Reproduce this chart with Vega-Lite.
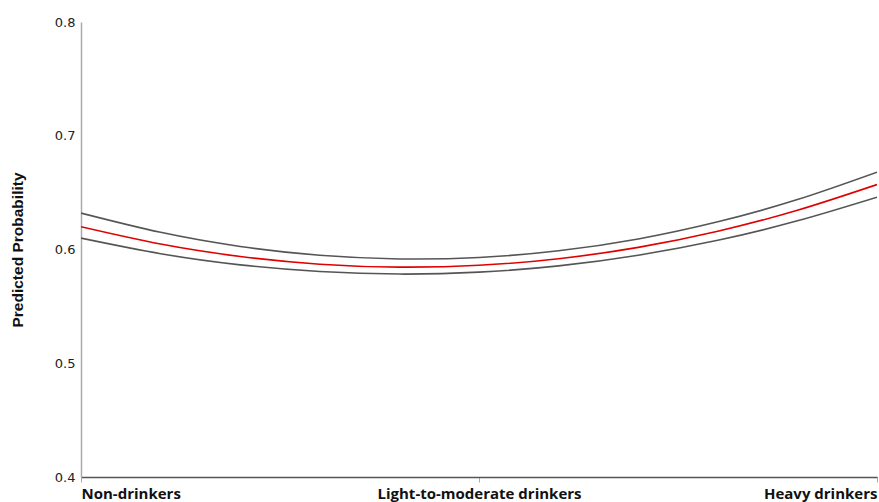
{
  "$schema": "https://vega.github.io/schema/vega-lite/v6.json",
  "autosize": "none",
  "width": 796,
  "height": 455,
  "padding": {"left": 81, "top": 22, "right": 2, "bottom": 25},
  "background": "white",
  "config": {"view": {"stroke": null}},
  "data": {"values": [
    {"x": 0, "series": "upper", "p": 0.6320}, {"x": 0.2, "series": "upper", "p": 0.6151}, {"x": 0.4, "series": "upper", "p": 0.6027}, {"x": 0.6, "series": "upper", "p": 0.5949}, {"x": 0.8, "series": "upper", "p": 0.5917}, {"x": 1.0, "series": "upper", "p": 0.5930}, {"x": 1.2, "series": "upper", "p": 0.5989}, {"x": 1.4, "series": "upper", "p": 0.6093}, {"x": 1.6, "series": "upper", "p": 0.6244}, {"x": 1.8, "series": "upper", "p": 0.6439}, {"x": 2.0, "series": "upper", "p": 0.6680},
    {"x": 0, "series": "lower", "p": 0.6100}, {"x": 0.2, "series": "lower", "p": 0.5963}, {"x": 0.4, "series": "lower", "p": 0.5865}, {"x": 0.6, "series": "lower", "p": 0.5806}, {"x": 0.8, "series": "lower", "p": 0.5784}, {"x": 1.0, "series": "lower", "p": 0.5801}, {"x": 1.2, "series": "lower", "p": 0.5856}, {"x": 1.4, "series": "lower", "p": 0.5950}, {"x": 1.6, "series": "lower", "p": 0.6081}, {"x": 1.8, "series": "lower", "p": 0.6252}, {"x": 2.0, "series": "lower", "p": 0.6460},
    {"x": 0, "series": "zfit", "p": 0.6200}, {"x": 0.2, "series": "zfit", "p": 0.6048}, {"x": 0.4, "series": "zfit", "p": 0.5939}, {"x": 0.6, "series": "zfit", "p": 0.5871}, {"x": 0.8, "series": "zfit", "p": 0.5845}, {"x": 1.0, "series": "zfit", "p": 0.5861}, {"x": 1.2, "series": "zfit", "p": 0.5919}, {"x": 1.4, "series": "zfit", "p": 0.6019}, {"x": 1.6, "series": "zfit", "p": 0.6161}, {"x": 1.8, "series": "zfit", "p": 0.6345}, {"x": 2.0, "series": "zfit", "p": 0.6571}
  ]},
  "mark": {"type": "line", "interpolate": "natural", "clip": true},
  "encoding": {
    "x": {
      "field": "x", "type": "quantitative",
      "scale": {"domain": [0, 2], "nice": false, "zero": false},
      "axis": {
        "title": null, "grid": false,
        "values": [0, 1, 2],
        "labelExpr": "datum.value == 0 ? 'Non-drinkers' : datum.value == 1 ? 'Light-to-moderate drinkers' : 'Heavy drinkers'",
        "labelAlign": {"expr": "datum.value == 0 ? 'left' : datum.value == 2 ? 'right' : 'center'"},
        "labelFont": "Open Sans", "labelFontSize": 15, "labelFontWeight": "bold", "labelColor": "#111",
        "labelPadding": 4, "labelOverlap": false, "labelBound": false, "labelFlush": false, "labelLimit": 0,
        "domainColor": "#555", "domainWidth": 1.5,
        "tickColor": "#aaa", "tickSize": 5, "ticks": true
      }
    },
    "y": {
      "field": "p", "type": "quantitative",
      "scale": {"domain": [0.4, 0.8], "nice": false, "zero": false},
      "axis": {
        "title": "Predicted Probability", "grid": false,
        "values": [0.4, 0.5, 0.6, 0.7, 0.8], "format": ".1f",
        "titleFont": "Liberation Sans", "titleFontSize": 15.5, "titleFontWeight": "bold", "titleColor": "#111",
        "titlePadding": 29,
        "labelFont": "DejaVu Sans", "labelFontSize": 13, "labelColor": "#222", "labelPadding": 6,
        "ticks": false, "domainColor": "#aaa", "domainWidth": 1.5
      }
    },
    "color": {
      "field": "series", "type": "nominal",
      "scale": {"domain": ["upper", "lower", "zfit"], "range": ["#555555", "#555555", "#e00000"]},
      "legend": null
    },
    "strokeWidth": {
      "field": "series", "type": "nominal",
      "scale": {"domain": ["upper", "lower", "zfit"], "range": [1.6, 1.6, 2.4]},
      "legend": null
    }
  }
}
